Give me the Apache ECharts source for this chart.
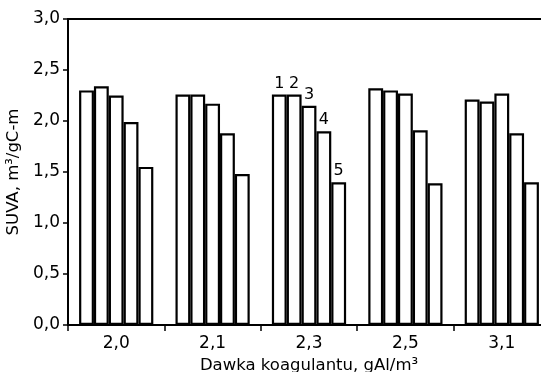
<!DOCTYPE html>
<html lang="pl">
<head>
    <meta charset="UTF-8">
    <title>SUVA</title>
    <script src="https://cdn.jsdelivr.net/npm/echarts@6/dist/echarts.min.js"></script>
</head>
<style>
    html, body { margin: 0; padding: 0; background: #fff; }
    #chart { width: 541px; height: 372px; }
</style>
<body>
<div id="chart"></div>
<script>
    // dawki koagulantu
    const categories = ['2,0', '2,1', '2,3', '2,5', '3,1'];
    const yTicks = ['0,0', '0,5', '1,0', '1,5', '2,0', '2,5', '3,0'];
    // SUVA dla próbek 1..5
    const s1 = [2.30, 2.26, 2.26, 2.32, 2.21];
    const s2 = [2.34, 2.26, 2.26, 2.30, 2.19];
    const s3 = [2.25, 2.17, 2.15, 2.27, 2.27];
    const s4 = [1.99, 1.88, 1.90, 1.91, 1.88];
    const s5 = [1.55, 1.48, 1.40, 1.39, 1.40];
    const seriesNames = ['1', '2', '3', '4', '5'];
    const labelledCategory = 2; // numery nad słupkami przy 2,3

    const font = 'DejaVu Sans';
    const allSeries = [s1, s2, s3, s4, s5];

    let series = allSeries.map(function (vals, i) {
        return {
            name: seriesNames[i],
            type: 'bar',
            barGap: '0%',
            barCategoryGap: '23%',
            itemStyle: {color: '#fff', borderColor: '#000', borderWidth: 2.2},
            label: {
                show: false,
                position: 'top',
                distance: 3,
                color: '#000',
                fontFamily: font,
                fontSize: 16,
                formatter: '{a}'
            },
            data: vals.map(function (v, j) {
                return j === labelledCategory ? {value: v, label: {show: true}} : v;
            })
        };
    });

    let chart = echarts.init(document.getElementById('chart'), null, {renderer: 'canvas'});
    chart.setOption({
        animation: false,
        backgroundColor: '#fff',
        grid: {
            left: 68, right: -9, top: 19, bottom: 47,
            outerBoundsMode: 'none',
            containLabel: false,
            show: true, borderColor: '#000', borderWidth: 2, backgroundColor: 'transparent'
        },
        xAxis: {
            type: 'category',
            data: categories,
            name: 'Dawka koagulantu, gAl/m³',
            nameLocation: 'middle',
            nameGap: 30,
            nameTextStyle: {color: '#000', fontFamily: font, fontSize: 16.5},
            axisLine: {lineStyle: {color: '#000', width: 2}},
            axisTick: {show: true, length: 6, lineStyle: {color: '#000', width: 1.5}},
            axisLabel: {color: '#000', fontFamily: font, fontSize: 17, margin: 10}
        },
        yAxis: {
            type: 'value',
            min: 0, max: 3, interval: 0.5,
            name: 'SUVA, m³/gC-m',
            nameLocation: 'middle',
            nameGap: 42,
            nameTextStyle: {color: '#000', fontFamily: font, fontSize: 16.5},
            splitLine: {show: false},
            axisLine: {show: true, lineStyle: {color: '#000', width: 2}},
            axisTick: {show: true, length: 5, lineStyle: {color: '#000', width: 1.5}},
            axisLabel: {
                color: '#000', fontFamily: font, fontSize: 17, margin: 8,
                formatter: function (v) { return yTicks[Math.round(v * 2)]; }
            }
        },
        series: series
    });
</script>
</body>
</html>
